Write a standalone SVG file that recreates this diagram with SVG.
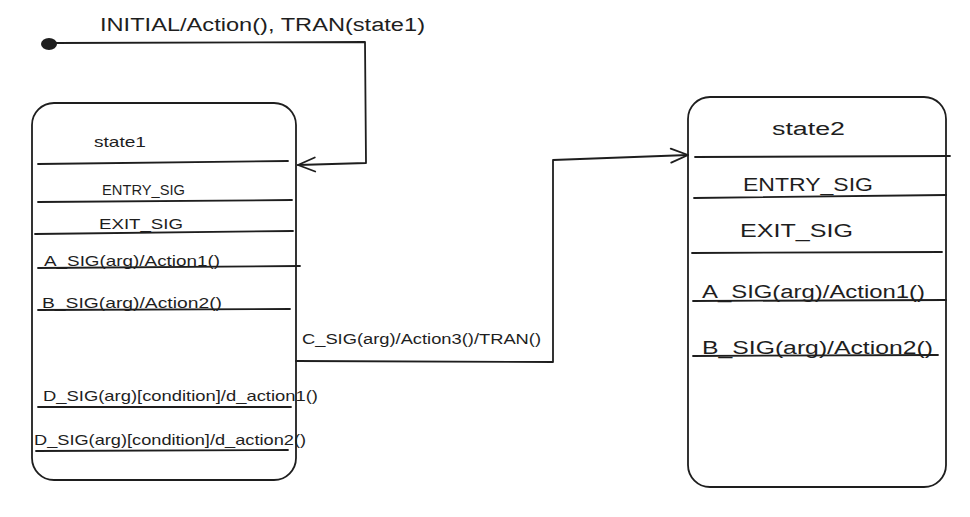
<svg xmlns="http://www.w3.org/2000/svg" width="970" height="517" viewBox="0 0 970 517">
<defs>
<style>
.ln{stroke:#1e1e1e;stroke-width:1.8;fill:none;stroke-linecap:round;stroke-linejoin:round}
.t{font-family:"Liberation Sans","DejaVu Sans",sans-serif;fill:#1e1e1e}
.s{font-size:15px}
.m{font-size:18px}
</style>
<marker id="arr" viewBox="0 0 20 20" refX="19" refY="10" markerWidth="20" markerHeight="20" markerUnits="userSpaceOnUse" orient="auto">
<path d="M2,3 L19,10 L2,17" fill="none" stroke="#1e1e1e" stroke-width="1.8" stroke-linecap="round"/>
</marker>
</defs>
<rect width="970" height="517" fill="#ffffff"/>
<g id="initial">
<ellipse cx="49" cy="44" rx="8" ry="6" fill="#1e1e1e"/>
<text class="t m" x="100" y="31" textLength="325" lengthAdjust="spacingAndGlyphs">INITIAL/Action(), TRAN(state1)</text>
</g>
<g id="state1">
<rect class="ln" x="32" y="103" width="264" height="377" rx="22"/>
<text class="t s" x="94" y="147" textLength="52" lengthAdjust="spacingAndGlyphs">state1</text>
<path class="ln" d="M38,164 L288,161"/>
<text class="t s" x="102" y="195" textLength="83" lengthAdjust="spacingAndGlyphs">ENTRY_SIG</text>
<path class="ln" d="M38,202 L292,200"/>
<text class="t s" x="99" y="229" textLength="84" lengthAdjust="spacingAndGlyphs">EXIT_SIG</text>
<path class="ln" d="M35,234 L293,231"/>
<text class="t s" x="44" y="266" textLength="176" lengthAdjust="spacingAndGlyphs">A_SIG(arg)/Action1()</text>
<path class="ln" d="M38,268 L300,266"/>
<text class="t s" x="42" y="308" textLength="180" lengthAdjust="spacingAndGlyphs">B_SIG(arg)/Action2()</text>
<path class="ln" d="M38,310 L290,309"/>
<text class="t s" x="43" y="401" textLength="275" lengthAdjust="spacingAndGlyphs">D_SIG(arg)[condition]/d_action1()</text>
<path class="ln" d="M38,407 L291,407"/>
<text class="t s" x="34" y="445" textLength="272" lengthAdjust="spacingAndGlyphs">D_SIG(arg)[condition]/d_action2()</text>
<path class="ln" d="M36,451 L288,450" stroke-width="2.4"/>
</g>
<g id="state2">
<rect class="ln" x="688" y="97" width="258" height="390" rx="22"/>
<text class="t m" x="772" y="135" textLength="73" lengthAdjust="spacingAndGlyphs">state2</text>
<path class="ln" d="M695,157 L950,156"/>
<text class="t m" x="743" y="191" textLength="130" lengthAdjust="spacingAndGlyphs">ENTRY_SIG</text>
<path class="ln" d="M694,198 L946,195"/>
<text class="t m" x="740" y="237" textLength="113" lengthAdjust="spacingAndGlyphs">EXIT_SIG</text>
<path class="ln" d="M692,253 L942,252"/>
<text class="t m" x="702" y="298" textLength="223" lengthAdjust="spacingAndGlyphs">A_SIG(arg)/Action1()</text>
<path class="ln" d="M693,301 L946,300"/>
<text class="t m" x="702" y="354" textLength="231" lengthAdjust="spacingAndGlyphs">B_SIG(arg)/Action2()</text>
<path class="ln" d="M693,356 L938,355"/>
</g>
<g id="connectors">
<path class="ln" d="M55,43 L365,42 L366,163 L298,165" marker-end="url(#arr)"/>
<path class="ln" d="M296,361 L553,362 L553,160 L688,155" marker-end="url(#arr)"/>
<text class="t" font-size="14" x="302" y="344" textLength="239" lengthAdjust="spacingAndGlyphs">C_SIG(arg)/Action3()/TRAN()</text>
</g>
</svg>
